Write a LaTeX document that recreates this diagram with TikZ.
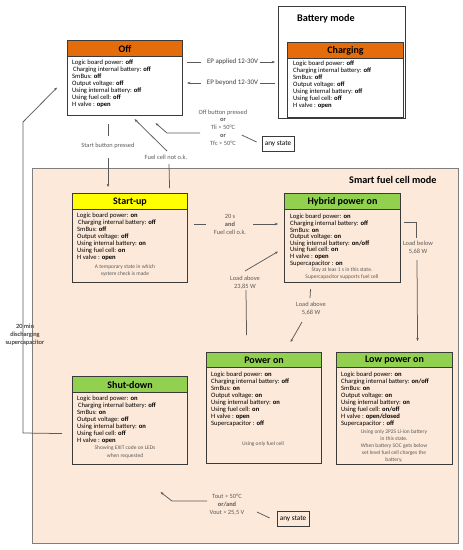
\documentclass[tikz,border=0pt]{standalone}
\usepackage{fontspec}
\setmainfont{Carlito}
\usetikzlibrary{arrows.meta,calc}
\definecolor{hdrorange}{HTML}{E46C0A}
\definecolor{hdrgreen}{HTML}{92D050}
\definecolor{hdryellow}{HTML}{FFFF00}
\definecolor{peach}{HTML}{FDE9D9}
\definecolor{boxln}{HTML}{3A3A3A}
\definecolor{connc}{HTML}{5A5A5A}
\definecolor{modeln}{HTML}{7F7F7F}
\newcommand{\kvl}[2]{#1 \textbf{#2}}
\newcommand{\ind}{\hspace{0.8pt}}
\begin{document}
\begin{tikzpicture}[x=1pt,y=-1pt,
  stbox/.style={draw=boxln,line width=1.1pt,anchor=north west,inner sep=0pt},
  hdrbox/.style={draw=boxln,line width=1.1pt,anchor=north west,inner sep=0pt,font=\bfseries\fontsize{10}{11}\selectfont},
  bodytxt/.style={anchor=north west,inner sep=0pt,align=left,font=\fontsize{6.6}{7}\selectfont},
  notetxt/.style={inner sep=0pt,align=center,text=connc,font=\fontsize{5.5}{7}\selectfont},
  lbl/.style={inner sep=0pt,align=center,text=connc,font=\fontsize{6.4}{8}\selectfont},
  eplbl/.style={inner sep=0pt,text=boxln,font=\fontsize{6.9}{8}\selectfont},
  modelbl/.style={inner sep=0pt,anchor=west,font=\bfseries\fontsize{10.2}{11}\selectfont},
  anybox/.style={draw=boxln,line width=0.7pt,inner sep=0pt,minimum width=32pt,minimum height=15pt,font=\fontsize{7.2}{8}\selectfont},
  cline/.style={draw=connc,line width=0.75pt},
  carr/.style={cline,-{Stealth[length=3.2pt,width=2.6pt]}}
]
\useasboundingbox (0,0) rectangle (463,550);

% mode frames
\node[draw=boxln,line width=0.8pt,anchor=north west,inner sep=0pt,minimum width=127pt,minimum height=112pt] (batt) at (278,6) {};
\node[modelbl] (battlbl) at (297,19) {Battery mode};
\node[draw=modeln,line width=1pt,fill=peach,anchor=north west,inner sep=0pt,minimum width=426pt,minimum height=375pt] (sfc) at (32,168) {};
\node[modelbl] (sfclbl) at (349,180) {Smart fuel cell mode};

% Off
\node[stbox,fill=white,minimum width=115pt,minimum height=75pt] (off) at (67,40) {};
\node[hdrbox,fill=hdrorange,minimum width=115pt,minimum height=16pt] (offhdr) at (67,40) {Off};
\node[bodytxt] (offtxt) at (72,59.3) {\kvl{Logic board power:}{off}\\ \ind\kvl{Charging internal battery:}{off}\\ \kvl{SmBus:}{off}\\ \kvl{Output voltage:}{off}\\ \kvl{Using internal battery:}{off}\\ \kvl{Using fuel cell:}{off}\\ \kvl{H valve :}{open}};

% Charging
\node[stbox,fill=white,minimum width=116pt,minimum height=75pt] (charging) at (287,42) {};
\node[hdrbox,fill=hdrorange,minimum width=116pt,minimum height=16pt] (charginghdr) at (287,42) {Charging};
\node[bodytxt] (chargingtxt) at (293,60.3) {\kvl{Logic board power:}{off}\\ \kvl{Charging internal battery:}{off}\\ \kvl{SmBus:}{off}\\ \kvl{Output voltage:}{off}\\ \kvl{Using internal battery:}{off}\\ \kvl{Using fuel cell:}{off}\\ \kvl{H valve :}{open}};

% Start-up
\node[stbox,minimum width=115pt,minimum height=89pt] (startup) at (72,193) {};
\node[hdrbox,fill=hdryellow,minimum width=115pt,minimum height=16pt] (startuphdr) at (72,193) {Start-up};
\node[bodytxt] (startuptxt) at (77,213.1) {\kvl{Logic board power:}{on}\\ \ind\kvl{Charging internal battery:}{off}\\ \kvl{SmBus:}{off}\\ \kvl{Output voltage:}{off}\\ \kvl{Using internal battery:}{on}\\ \kvl{Using fuel cell:}{on}\\ \kvl{H valve :}{open}};
\node[notetxt] (startupnote) at (125,270.5) {A temporary state in which\\system check is made};

% Hybrid power on
\node[stbox,minimum width=116pt,minimum height=89pt] (hybrid) at (284,193) {};
\node[hdrbox,fill=hdrgreen,minimum width=116pt,minimum height=16pt] (hybridhdr) at (284,193) {Hybrid power on};
\node[bodytxt,font=\fontsize{6.6}{6.6}\selectfont] (hybridtxt) at (290,214.1) {\kvl{Logic board power:}{on}\\ \kvl{Charging internal battery:}{off}\\ \kvl{SmBus:}{on}\\ \kvl{Output voltage:}{on}\\ \kvl{Using internal battery:}{on/off}\\ \kvl{Using fuel cell:}{on}\\ \kvl{H valve :}{open}\\ \kvl{Supercapacitor :}{on}};
\node[notetxt] (hybridnote) at (342,273.5) {Stay at leas 1 s in this state.\\Supercapacitor supports fuel cell};

% Power on
\node[stbox,minimum width=115pt,minimum height=111pt] (poweron) at (206,352) {};
\node[hdrbox,fill=hdrgreen,minimum width=115pt,minimum height=15pt] (poweronhdr) at (206,352) {Power on};
\node[bodytxt,font=\fontsize{6.6}{6.9}\selectfont] (powerontxt) at (211,372.1) {\kvl{Logic board power:}{on}\\ \kvl{Charging internal battery:}{off}\\ \kvl{SmBus:}{on}\\ \kvl{Output voltage:}{on}\\ \kvl{Using internal battery:}{on}\\ \kvl{Using fuel cell:}{on}\\ \kvl{H valve :}{open}\\ \kvl{Supercapacitor :}{off}};
\node[notetxt] (poweronnote) at (263,444) {Using only fuel cell};

% Low power on
\node[stbox,minimum width=116pt,minimum height=112pt] (lowpower) at (336,352) {};
\node[hdrbox,fill=hdrgreen,minimum width=116pt,minimum height=15pt] (lowpowerhdr) at (336,352) {Low power on};
\node[bodytxt,font=\fontsize{6.6}{6.9}\selectfont] (lowpowertxt) at (341,372.1) {\kvl{Logic board power:}{on}\\ \kvl{Charging internal battery:}{on/off}\\ \kvl{SmBus:}{on}\\ \kvl{Output voltage:}{on}\\ \kvl{Using internal battery:}{on}\\ \kvl{Using fuel cell:}{on/off}\\ \kvl{H valve :}{open/closed}\\ \kvl{Supercapacitor :}{off}};
\node[notetxt] (lowpowernote) at (394,446) {Using only 2P2S Li-ion battery\\in this state.\\When battery SOC gets below\\set level fuel cell charges the\\battery.};

% Shut-down
\node[stbox,minimum width=115pt,minimum height=88pt] (shutdown) at (72,376) {};
\node[hdrbox,fill=hdrgreen,minimum width=115pt,minimum height=16pt] (shutdownhdr) at (72,376) {Shut-down};
\node[bodytxt] (shutdowntxt) at (77,395.3) {\kvl{Logic board power:}{on}\\ \ind\kvl{Charging internal battery:}{off}\\ \kvl{SmBus:}{on}\\ \kvl{Output voltage:}{off}\\ \kvl{Using internal battery:}{on}\\ \kvl{Using fuel cell:}{off}\\ \kvl{H valve :}{open}};
\node[notetxt,font=\fontsize{5.5}{7.8}\selectfont] (shutdownnote) at (125,452) {Showing EXIT code on LEDs\\when requested};

% any state boxes
\node[anybox,fill=white] (anyst1) at (278,143.5) {any state};
\node[anybox] (anyst2) at (293,519) {any state};

% labels
\node[eplbl] (ep1) at (232.5,62) {EP applied 12-30V};
\node[eplbl] (ep2) at (232.5,83) {EP beyond 12-30V};
\node[lbl,font=\fontsize{6.4}{7.75}\selectfont] (offbtn) at (223,127.5) {Off button pressed\\\textbf{or}\\Tli > 50°C\\\textbf{or}\\Tfc > 50°C};
\node[lbl] (startlbl) at (108,146) {Start button pressed};
\node[lbl] (fclbl) at (166,157) {Fuel cell not o.k.};
\node[lbl] (twenty) at (230,224) {20 s\\\textbf{and}\\Fuel cell o.k.};
\node[lbl] (la23) at (245,282.5) {Load above\\23,85 W};
\node[lbl] (la5) at (311,308.5) {Load above\\5,68 W};
\node[lbl] (lb5) at (418,248) {Load below\\5,68 W};
\node[lbl] (twm) at (25,335) {20 min\\discharging\\supercapacitor};
\node[lbl] (tout) at (227,505) {Tout > 50°C\\\textbf{or/and}\\Vout > 25,5 V};

% connectors
\draw[cline] ($(off.east|-ep1)+(4,0)$) -- ($(ep1.west)+(-6,0)$);
\draw[carr] ($(ep1.east)+(2,0)$) -- ($(charging.west|-ep1)+(-12,0)$);
\draw[carr] ($(ep2.west)+(-6,0)$) -- ($(off.east|-ep2)+(4,0)$);
\draw[cline] ($(ep2.east)+(2,0)$) -- ($(charging.west|-ep2)+(-12,0)$);

\coordinate (obc) at ($(offbtn.center)+(-56,5.5)$);
\draw[carr] ($(offbtn.center)+(-23,5.5)$) -- (obc) -- ($(off.south)+(30.5,7)$);
\draw[cline] ($(anyst1.west)+(-20,-8.5)$) -- ($(anyst1.west)+(-5,-1.5)$);

\draw[cline] ($(off.south -| startlbl)+(0,8)$) -- ($(startlbl.center)+(0,-10)$);
\draw[carr] ($(startlbl.center)+(0,12)$) -- ($(startup.north -| startlbl)+(0,-6)$);

\draw[carr] ($(fclbl.center)+(1,-6)$) -- ($(off.south)+(9.5,3)$);
\draw[cline] ($(fclbl.center)+(3,7)$) -- ($(startup.north)+(39.5,-5)$);

\draw[cline] ($(startup.east|-twenty)+(6,0)$) -- ($(twenty.center)+(-24,0)$);
\draw[carr] ($(twenty.center)+(23,0)$) -- ($(hybrid.west|-twenty)+(-6,0)$);

\draw[carr] ($(la23.center)+(0,-11.5)$) -- ($(hybrid.west)+(-6,13.5)$);
\draw[cline] ($(la23.center)+(1,7.5)$) -- ($(poweron.north)+(-17.5,-17)$);

\draw[cline] ($(hybrid.south)+(-32,6)$) -- ($(la5.center)+(-1,-10.5)$);
\draw[carr] ($(la5.center)+(-9,13.5)$) -- ($(poweron.north)+(26.5,-10)$);

\draw[cline] ($(hybrid.east)+(3,-15.5)$) -| ($(lb5.center)+(-2,-10)$);
\draw[carr] ($(lb5.center)+(-1,12)$) -- ($(lowpower.north)+(23,-11)$);

\draw[carr] ($(shutdown.west)+(-10,13)$) -- ($(twm.center)+(-2,98)$) -- ($(twm.center)+(-2,-213)$) -- ($(off.west)+(-10,9.5)$);

\draw[carr] ($(tout.center)+(-20,-4)$) -- ($(tout.center)+(-55,-4)$) -- ($(shutdown.south)+(30.5,27)$);
\draw[cline] ($(tout.center)+(30,7)$) -- ($(anyst2.west)+(-7,-1)$);

% label text drawn again over the vertical line
\node[lbl] at (twm.center) {20 min\\discharging\\supercapacitor};
\end{tikzpicture}
\end{document}
